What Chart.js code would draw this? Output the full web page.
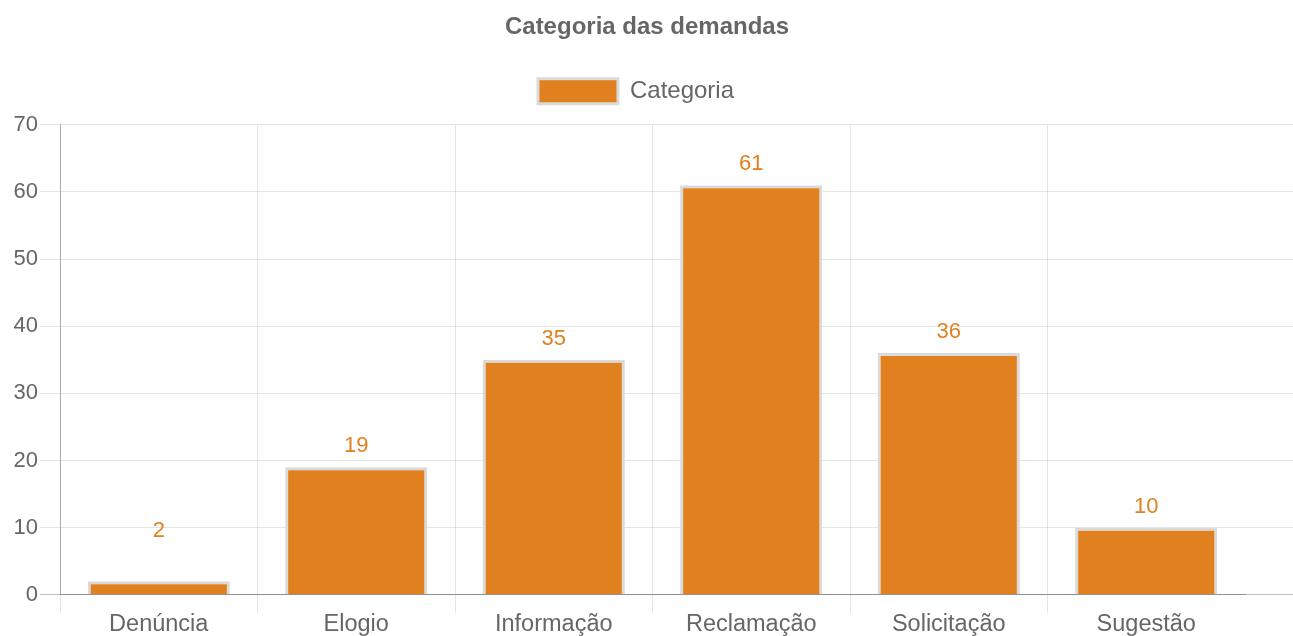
<!DOCTYPE html>
<html lang="pt-BR">
<head>
<meta charset="utf-8">
<title>Categoria das demandas</title>
<script src="https://cdn.jsdelivr.net/npm/chart.js@4.4.1/dist/chart.umd.min.js"></script>
<style>
  html, body { margin: 0; padding: 0; background: #fff; overflow: hidden; }
  #wrap { position: relative; width: 1293px; height: 637px; }
</style>
</head>
<body>
<div id="wrap"><canvas id="chart"></canvas></div>
<script>
// values
const categories = ["Denúncia", "Elogio", "Informação", "Reclamação", "Solicitação", "Sugestão"];
const counts = [2, 19, 35, 61, 36, 10];
const seriesName = "Categoria";
const yTicks = { min: 0, max: 70, step: 10 };

const ORANGE = "#e0801f", BORDER = "rgba(218,218,218,1)";
const GRID = "rgba(0,0,0,0.1)", AXIS = "rgba(0,0,0,0.25)";

Chart.defaults.font.family = "'Liberation Sans', Arial, Helvetica, sans-serif";
Chart.defaults.color = "#666";

// value labels above each bar (short bars get a minimum lift, as in the source)
const valueLabels = {
  id: "valueLabels",
  afterDatasetsDraw(chart) {
    const { ctx } = chart;
    const meta = chart.getDatasetMeta(0);
    ctx.save();
    ctx.font = "22px 'Liberation Sans', Arial, sans-serif";
    ctx.fillStyle = ORANGE;
    ctx.textAlign = "center";
    ctx.textBaseline = "middle";
    meta.data.forEach((bar, i) => {
      const top = Math.min(bar.y, bar.base - 42);
      ctx.fillText(String(counts[i]), bar.x, top - 21);
    });
    ctx.restore();
  }
};

// horizontal grid keeps running to the canvas edge, past the last category
const gridRunOut = {
  id: "gridRunOut",
  beforeDatasetsDraw(chart) {
    const { ctx, chartArea, scales } = chart;
    ctx.save();
    ctx.lineWidth = 1;
    scales.y.ticks.forEach((t) => {
      const y = Math.round(scales.y.getPixelForValue(t.value) - 0.5) + 0.5; // same snap as Chart.js
      ctx.strokeStyle = t.value === 0 ? AXIS : GRID;
      ctx.beginPath(); ctx.moveTo(chartArea.right, y); ctx.lineTo(chart.width, y); ctx.stroke();
    });
    ctx.restore();
  }
};

// a bit more room under the legend, and the legend row sits a little left of centre
const legendGap = {
  id: "legendGap",
  beforeInit(chart) {
    const fit = chart.legend.fit;
    chart.legend.fit = function () {
      fit.call(this);
      this.height += 11;
      if (this.lineWidths && this.lineWidths.length) this.lineWidths[0] += 22;
    };
  }
};

new Chart(document.getElementById("chart"), {
  type: "bar",
  data: {
    labels: categories,
    datasets: [{
      label: seriesName, data: counts,
      backgroundColor: ORANGE, borderColor: BORDER, borderWidth: 3
    }]
  },
  options: {
    responsive: true, maintainAspectRatio: false, animation: false,
    layout: { padding: { left: 1, right: 0, top: 0, bottom: 0 } },
    plugins: {
      title: { display: true, text: "Categoria das demandas", color: "#666",
        font: { size: 24, weight: "bold" }, padding: { top: 13, bottom: 16 } },
      legend: { labels: { boxWidth: 80, boxHeight: 25, font: { size: 24 }, color: "#666", padding: 21 } },
      tooltip: { enabled: false }
    },
    scales: {
      y: {
        min: yTicks.min, max: yTicks.max,
        afterFit: (s) => { s.width = 59; },
        ticks: { stepSize: yTicks.step, font: { size: 22 }, color: "#666", padding: 2 },
        grid: { color: (c) => (c.tick && c.tick.value === 0 ? AXIS : GRID), tickLength: 20 },
        border: { color: AXIS }
      },
      // empty strip on the right: the plot stops short of the canvas edge
      side: {
        position: "right", display: true,
        afterFit: (s) => { s.width = 48; },
        ticks: { display: false }, grid: { display: false }, border: { display: false }
      },
      x: {
        ticks: { font: { size: 23.5 }, color: "#666", padding: -2 },
        grid: { color: (c) => (c.type === "tick" ? GRID : "transparent"), tickLength: 18 },
        border: { color: AXIS }
      }
    }
  },
  plugins: [legendGap, gridRunOut, valueLabels]
});
</script>
</body>
</html>
